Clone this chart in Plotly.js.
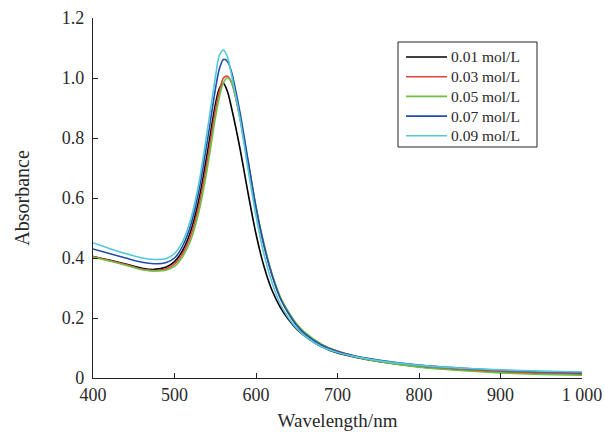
<!DOCTYPE html>
<html>
<head>
<meta charset="utf-8">
<script src="https://cdn.plot.ly/plotly-3.0.1.min.js"></script>
<style>html,body{margin:0;padding:0;background:#fff;}#chart{width:605px;height:433px;}</style>
</head>
<body>
<div id="chart"></div>
<script>
const wavelength = [400,420,440,460,475,490,500,510,520,530,540,550,555,560,565,570,580,590,600,610,620,630,640,650,660,680,700,720,750,800,850,900,950,1000];
const seriesNames = ["0.01 mol/L","0.03 mol/L","0.05 mol/L","0.07 mol/L","0.09 mol/L"];
const abs001 = [0.405,0.393,0.380,0.366,0.362,0.370,0.388,0.425,0.490,0.595,0.745,0.910,0.965,0.982,0.955,0.900,0.770,0.620,0.480,0.370,0.290,0.235,0.195,0.163,0.140,0.105,0.083,0.070,0.055,0.038,0.028,0.020,0.016,0.014];
const abs003 = [0.405,0.392,0.378,0.363,0.358,0.364,0.380,0.415,0.475,0.575,0.720,0.890,0.955,1.000,1.006,0.985,0.870,0.720,0.565,0.440,0.340,0.265,0.215,0.178,0.150,0.113,0.090,0.074,0.058,0.040,0.029,0.021,0.016,0.013];
const abs005 = [0.403,0.390,0.376,0.361,0.357,0.360,0.372,0.405,0.460,0.555,0.695,0.865,0.935,0.985,1.000,0.985,0.875,0.725,0.570,0.445,0.345,0.270,0.220,0.180,0.152,0.113,0.088,0.072,0.055,0.036,0.025,0.017,0.012,0.009];
const abs007 = [0.430,0.415,0.400,0.386,0.381,0.385,0.400,0.440,0.510,0.625,0.785,0.960,1.030,1.062,1.055,1.020,0.890,0.730,0.570,0.440,0.340,0.265,0.215,0.175,0.147,0.110,0.088,0.074,0.060,0.043,0.033,0.026,0.021,0.018];
const abs009 = [0.450,0.432,0.415,0.400,0.395,0.398,0.415,0.455,0.530,0.650,0.820,1.000,1.075,1.093,1.070,1.010,0.870,0.700,0.540,0.410,0.315,0.245,0.200,0.165,0.140,0.105,0.085,0.072,0.058,0.042,0.033,0.027,0.023,0.020];
const xTickVals = [400,500,600,700,800,900,1000];
const xTickText = ["400","500","600","700","800","900","1 000"];
const yTickVals = [0,0.2,0.4,0.6,0.8,1.0,1.2];
const yTickText = ["0","0.2","0.4","0.6","0.8","1.0","1.2"];

const allY = [abs001, abs003, abs005, abs007, abs009];
const colors = ["#000000","#e8403a","#6cbf45","#1f4fa8","#52c8d8"];
const traces = allY.map((y,i)=>({
  x: wavelength, y: y, name: seriesNames[i], type:'scatter', mode:'lines',
  line:{color:colors[i], width:1.6, shape:'spline', smoothing:0.8}, showlegend:false
}));
const font = "Liberation Serif, Times New Roman, serif";
const txt = '#2a2a2a';

// legend box drawn in paper coordinates (plot area: 93..582 px wide, 18..378 px tall)
const M = {l:93, r:23, t:18, b:55};
const W = 605, H = 433;
const pw = W - M.l - M.r, ph = H - M.t - M.b;
const fx = px => (px - M.l) / pw;
const fy = py => (H - M.b - py) / ph;
const shapes = [{type:'rect', xref:'paper', yref:'paper', x0:fx(398), x1:fx(537), y0:fy(147), y1:fy(42),
  line:{color:'#222', width:1}, fillcolor:'#fff', layer:'above'}];
const annotations = [];
seriesNames.forEach((n,i)=>{
  const py = 57 + i*19.7;
  shapes.push({type:'line', xref:'paper', yref:'paper', x0:fx(406), x1:fx(447), y0:fy(py), y1:fy(py),
    line:{color:colors[i], width:1.6}, layer:'above'});
  annotations.push({xref:'paper', yref:'paper', x:fx(449), y:fy(py), xanchor:'left', yanchor:'middle',
    text:n, showarrow:false, font:{family:font, size:15.5, color:txt}});
});

const layout = {
  width:W, height:H,
  margin:M,
  paper_bgcolor:'#fff', plot_bgcolor:'#fff',
  font:{family:font, size:16, color:txt},
  showlegend:false,
  shapes:shapes, annotations:annotations,
  xaxis:{range:[400,1000], tickvals:xTickVals, ticktext:xTickText, ticks:'inside', ticklen:5,
    tickcolor:'#222', showline:true, linecolor:'#222', linewidth:1.2, showgrid:false, zeroline:false,
    tickfont:{family:font, size:18, color:txt},
    title:{text:'Wavelength/nm', font:{family:font, size:19, color:txt}, standoff:10}},
  yaxis:{range:[0,1.2], tickvals:yTickVals, ticktext:yTickText, ticks:'inside', ticklen:5,
    tickcolor:'#222', showline:true, linecolor:'#222', linewidth:1.2, showgrid:false, zeroline:false,
    ticklabelstandoff:4,
    tickfont:{family:font, size:18, color:txt},
    title:{text:'Absorbance', font:{family:font, size:20, color:txt}, standoff:26}}
};
Plotly.newPlot('chart', traces, layout, {displayModeBar:false, staticPlot:true});
</script>
</body>
</html>
